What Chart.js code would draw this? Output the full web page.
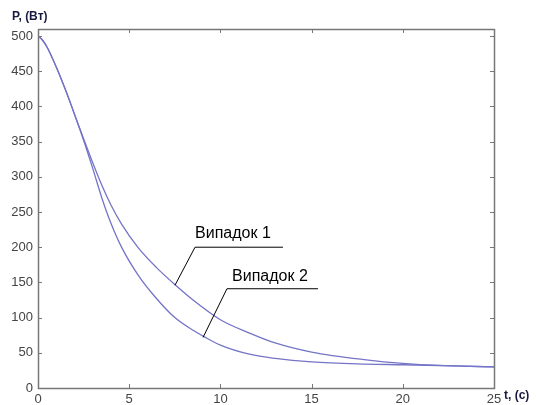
<!DOCTYPE html>
<html>
<head>
<meta charset="utf-8">
<script src="https://cdn.jsdelivr.net/npm/chart.js@4/dist/chart.umd.min.js"></script>
<style>
	body { margin: 0; background: #fff; }
	canvas { display: block; }
</style>
</head>
<body>
<canvas id="grafik" width="536" height="405"></canvas>
<script>
// Vaqt (c) va quvvat (Вт) qiymatlari
const vaqt1 = [0, 0.25, 0.5, 1, 1.5, 2, 2.5, 3, 3.5, 4, 4.6, 5.5, 6.5, 7.5, 8.5, 10, 11.6, 13, 15, 18, 20, 22, 25]
const quvvat1 = [500, 494, 484, 456, 424, 389, 354, 320, 288, 260, 232, 199, 171, 147, 125, 97, 78, 64, 51, 40, 35, 32, 30]
const vaqt2 = [0, 0.25, 0.5, 1, 1.5, 2, 2.5, 3, 3.5, 4, 4.6, 5.5, 6.4, 7.5, 8.5, 9.1, 10, 11.6, 13, 15, 18, 20, 25]
const quvvat2 = [500, 494, 484, 456, 424, 389, 352, 312, 270, 234, 199, 160, 130, 100, 82, 73, 61, 48, 42, 37, 34, 33, 30]
const xBelgilar = [0, 5, 10, 15, 20, 25]
const yBelgilar = [0, 50, 100, 150, 200, 250, 300, 350, 400, 450, 500]

// Izohlar (ma'lumot koordinatalarida)
const izohlar = [
	{ matn: 'Випадок 1', matnX: 8.61, matnY: 213, chiziqX1: 8.61, chiziqX2: 13.43, chiziqY: 200, uchX: 7.51, uchY: 146 },
	{ matn: 'Випадок 2', matnX: 10.64, matnY: 152, chiziqX1: 10.36, chiziqX2: 15.35, chiziqY: 141, uchX: 9.05, uchY: 72 },
]

const nuqtalar = (xs, ys) => xs.map((x, i) => ({ x: x, y: ys[i] }))
const chiziqRangi = '#7474c8'
const shrift = '"Liberation Sans", Arial, sans-serif'

const ramkaPlugin = {
	id: 'ramka',
	afterDraw(chart) {
		const ctx = chart.ctx
		const a = chart.chartArea
		const sx = chart.scales.x
		const sy = chart.scales.y
		ctx.save()
		ctx.strokeStyle = '#777'
		ctx.lineWidth = 1.5
		ctx.strokeRect(Math.round(a.left) + 0.5, Math.round(a.top) + 0.5, Math.round(a.right - a.left), Math.round(a.bottom - a.top))
		ctx.lineWidth = 1
		ctx.beginPath()
		xBelgilar.forEach(v => {
			const px = Math.round(sx.getPixelForValue(v)) + 0.5
			ctx.moveTo(px, a.bottom); ctx.lineTo(px, a.bottom - 4)
			ctx.moveTo(px, a.top); ctx.lineTo(px, a.top + 4)
		})
		yBelgilar.forEach(v => {
			const py = Math.round(sy.getPixelForValue(v)) + 0.5
			ctx.moveTo(a.left, py); ctx.lineTo(a.left + 4, py)
			ctx.moveTo(a.right, py); ctx.lineTo(a.right - 4, py)
		})
		ctx.stroke()

		// Izohlar
		ctx.strokeStyle = '#000'
		ctx.fillStyle = '#000'
		ctx.font = '16px ' + shrift
		ctx.textBaseline = 'alphabetic'
		izohlar.forEach(iz => {
			ctx.beginPath()
			ctx.moveTo(sx.getPixelForValue(iz.uchX), sy.getPixelForValue(iz.uchY))
			ctx.lineTo(sx.getPixelForValue(iz.chiziqX1), sy.getPixelForValue(iz.chiziqY))
			ctx.lineTo(sx.getPixelForValue(iz.chiziqX2), sy.getPixelForValue(iz.chiziqY))
			ctx.stroke()
			ctx.fillText(iz.matn, sx.getPixelForValue(iz.matnX), sy.getPixelForValue(iz.matnY))
		})

		// O'q nomlari
		ctx.font = 'bold 12px ' + shrift
		ctx.fillStyle = '#1a1a40'
		ctx.textBaseline = 'middle'
		ctx.fillText('P, (Вт)', 12, 17)
		ctx.fillText('t, (c)', 504, 396)
		ctx.restore()
	},
}

const ctx = document.getElementById('grafik').getContext('2d')
const grafik = new Chart(ctx, {
	type: 'line',
	data: {
		datasets: [
			{ label: 'Випадок 1', data: nuqtalar(vaqt1, quvvat1), borderColor: chiziqRangi, borderWidth: 1.3, pointRadius: 0, cubicInterpolationMode: 'monotone', fill: false },
			{ label: 'Випадок 2', data: nuqtalar(vaqt2, quvvat2), borderColor: chiziqRangi, borderWidth: 1.3, pointRadius: 0, cubicInterpolationMode: 'monotone', fill: false },
		],
	},
	options: {
		responsive: false,
		animation: false,
		devicePixelRatio: 1,
		layout: { padding: { top: 29, right: 42, left: 0, bottom: 0 } },
		plugins: { legend: { display: false }, tooltip: { enabled: false } },
		scales: {
			x: {
				type: 'linear',
				min: 0,
				max: 25,
				grid: { display: false, drawTicks: false, tickLength: 0 },
				border: { display: false },
				afterFit: s => { s.height = 17 },
				afterBuildTicks: s => { s.ticks = xBelgilar.map(v => ({ value: v })) },
				ticks: { padding: 4, color: '#444', font: { family: shrift, size: 13 }, maxRotation: 0 },
			},
			y: {
				min: 0,
				max: 510,
				grid: { display: false, drawTicks: false, tickLength: 0 },
				border: { display: false },
				afterFit: s => { s.width = 38 },
				afterBuildTicks: s => { s.ticks = yBelgilar.map(v => ({ value: v })) },
				ticks: { padding: 5, color: '#444', font: { family: shrift, size: 13 } },
			},
		},
	},
	plugins: [ramkaPlugin],
})
</script>
</body>
</html>
